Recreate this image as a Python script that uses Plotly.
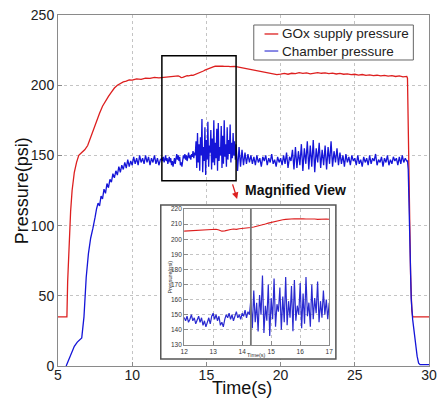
import plotly.graph_objects as go


def grid(t0, step, n):
    return [round(t0 + i * step, 3) for i in range(n)]


# ---------------- GOx supply pressure (red) ----------------
red_t_start = [5.0, 5.6, 5.65, 5.75, 5.85, 5.95, 6.1, 6.25, 6.4, 6.6, 6.8, 7.0, 7.2, 7.4,
               7.6, 7.8, 8.0, 8.2, 8.4, 8.6, 8.8, 9.0, 9.2, 9.4, 9.6, 9.8, 10.0, 10.3,
               10.6, 10.9, 11.2, 11.5, 11.8]
red_v_start = [35, 35, 60, 90, 110, 125, 138, 145, 150, 152, 154, 157, 163, 169,
               175, 180, 185, 189, 192, 195, 198, 200, 201.2, 202.4, 202.9, 203.8, 203.6, 204.5,
               204.2, 205.1, 204.8, 205.6, 205.2]
red_v_mid = [205.4, 205.6, 205.5, 205.9, 205.8, 206.1, 206.0, 206.3, 206.2, 206.5,
             206.4, 206.6, 206.2, 205.4, 205.6, 206.2, 206.5, 206.8, 206.6, 207.0,
             207.2, 207.0, 207.4, 207.8, 208.1, 208.5, 209.0, 209.6, 210.1, 210.7,
             211.2, 211.6, 212.0, 212.4, 212.9, 213.2, 213.5, 213.8, 213.6, 213.5,
             213.8, 213.6, 213.4, 213.5, 213.7, 213.4, 213.2, 213.4, 213.3, 213.4,
             213.3]  # 12.0 .. 17.0 step 0.1
red_v_late = [212.8, 212.3, 211.5, 211.0, 210.4, 210.0, 209.3, 209.0, 208.5, 208.0,
              207.6, 207.9, 208.4, 207.8, 208.5, 208.2, 208.9, 208.4, 208.8, 208.1,
              208.6, 209.0, 208.5, 208.8, 208.2, 208.6, 208.0, 208.4, 207.8, 208.1,
              207.5, 207.8, 207.2, 207.6, 207.0, 207.3, 206.8, 207.1, 206.6, 207.0,
              206.4, 206.8, 206.2, 206.6, 206.0, 206.3]  # 17.25 .. 28.5 step 0.25
red_t_end = [28.55, 28.6, 28.68, 28.76, 28.84, 28.9, 30.0]
red_v_end = [205, 170, 110, 65, 40, 35, 35]

red_t = red_t_start + grid(12.0, 0.1, 51) + grid(17.25, 0.25, 46) + red_t_end
red_v = red_v_start + red_v_mid + red_v_late + red_v_end

# ---------------- Chamber pressure (blue) ----------------
blue_t_start = [5.55, 5.7, 5.9, 6.1, 6.3, 6.5, 6.6, 6.75, 6.9, 7.05, 7.2, 7.35, 7.45, 7.5]
blue_v_start = [0, 4, 9, 14, 17, 19, 20, 35, 63, 80, 91, 98, 102, 106]
blue_v_a = [112, 116, 114, 121, 119, 126, 123, 130, 127, 133,
            131, 137, 134, 139, 136, 142, 138, 143, 140, 145,
            141, 147, 142, 146, 143, 149, 144, 148, 143, 150,
            145, 148, 144, 150, 145, 149, 143, 148, 145, 150,
            144, 148, 143, 147]  # 7.6 .. 11.9 step 0.1
blue_v_b = [148, 146, 149, 145, 147, 150, 146, 148, 144, 147,
            149, 145, 148, 143, 146, 142, 145, 148, 144, 149,
            151, 147, 150, 146, 149, 143, 145, 142, 147, 150,
            148, 151, 147, 150, 146, 149, 152, 148, 150, 147,
            151, 149, 153, 148, 152, 150,
            160, 141, 166, 145, 158, 139, 163, 150, 176, 138,
            156, 146, 170, 136, 161, 147, 174, 142, 157, 152,
            168, 140, 162, 145, 175, 143, 159, 148, 169, 139,
            173, 146, 156, 150, 171, 141, 164, 144, 175, 149,
            158, 142, 170, 147, 161, 151, 172, 145, 159, 148,
            166, 150, 160, 147]  # 12.0 .. 16.95 step 0.05
blue_v_c = [158, 139, 156, 142, 154, 143, 152, 144, 151, 145,
            150, 144, 149, 143, 150, 145, 148, 142, 149, 146,
            150, 143, 148, 145, 151, 144, 147, 142, 149, 145,
            148, 143, 150, 144, 152, 141, 149, 146, 154, 140,
            156, 141, 153, 143, 158, 139, 155, 144, 160, 140,
            157, 142, 161, 138, 155, 145, 159, 141, 154, 143,
            157, 140, 156, 144, 160, 142, 153, 145, 155, 143,
            152, 144, 150, 142, 151, 145, 149, 143, 150, 146,
            148, 143, 150, 144, 147, 142, 149, 145, 148, 143,
            150, 144, 148, 146, 151, 143, 147, 145, 149, 142,
            148, 145, 150, 143, 147, 144, 149, 146, 148, 143,
            149, 144, 150, 145, 148, 146]  # 17.0 .. 28.5 step 0.1
blue_t_end = [28.55, 28.6, 28.7, 28.8, 28.9, 29.0, 29.1, 29.2, 29.3, 29.4, 30.0]
blue_v_end = [146, 140, 90, 48, 33, 24, 15, 7, 2, 1, 1]

blue_t = blue_t_start + grid(7.6, 0.1, 44) + grid(12.0, 0.05, 100) + grid(17.0, 0.1, 116) + blue_t_end
blue_v = blue_v_start + blue_v_a + blue_v_b + blue_v_c + blue_v_end

series_names = ["GOx supply pressure", "Chamber pressure"]
main_xticks = [5, 10, 15, 20, 25, 30]
main_yticks = [0, 50, 100, 150, 200, 250]
inset_xticks = [12, 13, 14, 15, 16, 17]
inset_yticks = [130, 140, 150, 160, 170, 180, 190, 200, 210, 220]

RED = "#dd1f1f"
BLUE = "#1515d8"
FONT = "Liberation Sans, Arial, sans-serif"

fig = go.Figure()
fig.add_trace(go.Scatter(x=red_t, y=red_v, mode="lines", name=series_names[0],
                         line=dict(color=RED, width=1.3), showlegend=False))
fig.add_trace(go.Scatter(x=blue_t, y=blue_v, mode="lines", name=series_names[1],
                         line=dict(color=BLUE, width=1.3), showlegend=False))
# cover subplot (white inset panel)
fig.add_trace(go.Scatter(x=[0], y=[0], mode="markers", marker=dict(opacity=0),
                         xaxis="x2", yaxis="y2", showlegend=False, hoverinfo="skip"))
# inset
fig.add_trace(go.Scatter(x=red_t, y=red_v, mode="lines", xaxis="x3", yaxis="y3",
                         line=dict(color=RED, width=1.1), showlegend=False))
fig.add_trace(go.Scatter(x=blue_t, y=blue_v, mode="lines", xaxis="x3", yaxis="y3",
                         line=dict(color="#2a2ad0", width=1.2), showlegend=False))

axis_common = dict(showline=True, mirror=True, linecolor="#8a8a8a", linewidth=1,
                   ticks="inside", ticklen=4, tickcolor="#8a8a8a",
                   showgrid=True, gridcolor="#c4c4c4", griddash="dot", gridwidth=1,
                   zeroline=False, ticklabeloverflow="allow")

fig.update_layout(
    width=438, height=399,
    margin=dict(l=58, r=1, t=15, b=33),
    paper_bgcolor="white", plot_bgcolor="white",
    font=dict(family=FONT, color="#222"),
    xaxis=dict(range=[5, 30], tickvals=main_xticks, domain=[0, 1], ticklabelstandoff=-4,
               tickfont=dict(size=14, color="#222"), **axis_common),
    yaxis=dict(range=[0, 250], tickvals=main_yticks, domain=[0, 1],
               tickfont=dict(size=14, color="#222"), **axis_common),
    xaxis2=dict(domain=[0.277, 0.749], visible=False, showgrid=False, range=[0, 1]),
    yaxis2=dict(domain=[0.020, 0.459], visible=False, showgrid=False, range=[0, 1]),
    xaxis3=dict(domain=[0.340, 0.731], range=[12, 17], tickvals=inset_xticks,
                tickfont=dict(size=6.5, color="#333"), anchor="y3", **axis_common),
    yaxis3=dict(domain=[0.060, 0.447], range=[130, 220], tickvals=inset_yticks,
                tickfont=dict(size=6.5, color="#333"), anchor="x3", **axis_common),
    showlegend=False,
)

# main zoom rectangle, inset frame, marker line in inset
fig.add_shape(type="rect", xref="x", yref="y", x0=12, x1=17, y0=132, y1=221,
              line=dict(color="black", width=1.5), layer="above")
fig.add_shape(type="rect", xref="paper", yref="paper", x0=0.277, x1=0.749, y0=0.020, y1=0.459,
              line=dict(color="#555", width=1.5), layer="above")
fig.add_shape(type="line", xref="x3", yref="y3", x0=14.3, x1=14.3, y0=130, y1=220,
              line=dict(color="#777", width=1.8), layer="above")

# legend (box, line samples, labels)
fig.add_shape(type="rect", xref="paper", yref="paper", x0=0.5277, x1=0.9578, y0=0.8718, y1=0.9715,
              line=dict(color="#666", width=1), fillcolor="white", layer="above")
leg_y = [0.9459, 0.8974]
for name, col, yy in zip(series_names, [RED, "#4a4ad8"], leg_y):
    fig.add_shape(type="line", xref="paper", yref="paper", x0=0.5567, x1=0.5937, y0=yy, y1=yy,
                  line=dict(color=col, width=1.3), layer="above")
    fig.add_annotation(x=0.5989, y=yy, xref="paper", yref="paper", text=name,
                       xanchor="left", yanchor="middle", showarrow=False,
                       font=dict(size=13.5, color="#222", family=FONT))

fig.add_annotation(x=17.07, y=119, xref="x", yref="y", ax=-5, ay=-16, text="",
                   showarrow=True, arrowhead=2, arrowsize=1, arrowwidth=1.3, arrowcolor=RED)
fig.add_annotation(x=0.639, y=0.501, xref="paper", yref="paper", text="<b>Magnified View</b>",
                   xanchor="center", yanchor="middle",
                   showarrow=False, font=dict(size=14, color="#111", family=FONT))
fig.add_annotation(x=-0.0976, y=0.5, xref="paper", yref="paper", text="Pressure(psi)",
                   xanchor="center", yanchor="middle",
                   textangle=-90, showarrow=False, font=dict(size=18, color="#111", family=FONT))
fig.add_annotation(x=0.496, y=-0.062, xref="paper", yref="paper", text="Time(s)",
                   xanchor="center", yanchor="middle",
                   showarrow=False, font=dict(size=18, color="#111", family=FONT))
fig.add_annotation(x=0.301, y=0.254, xref="paper", yref="paper", text="Pressure(psi)",
                   xanchor="center", yanchor="middle",
                   textangle=-90, showarrow=False, font=dict(size=5.5, color="#333", family=FONT))
fig.add_annotation(x=0.536, y=0.031, xref="paper", yref="paper", text="Time(s)",
                   xanchor="center", yanchor="middle",
                   showarrow=False, font=dict(size=5.5, color="#333", family=FONT))

fig.write_html("out.html")
